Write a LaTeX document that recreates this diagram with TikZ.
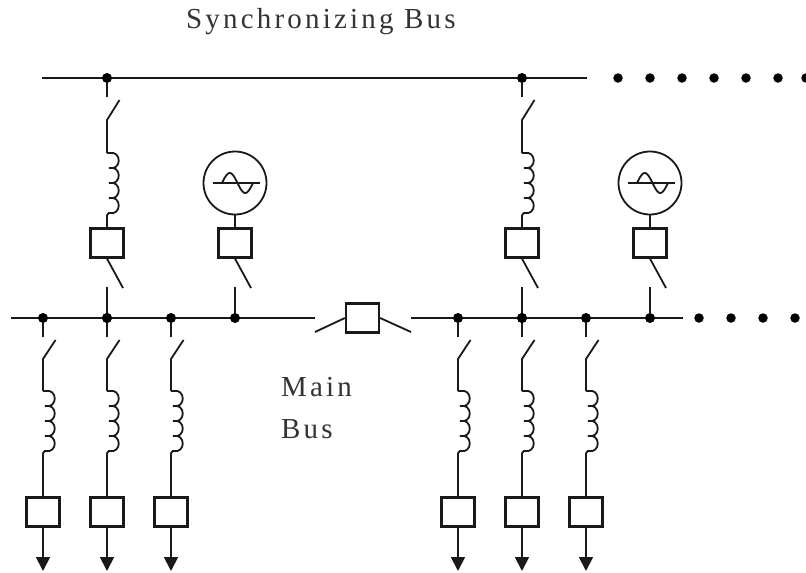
\documentclass[tikz,border=0pt]{standalone}
\usepackage{fontspec}
\usetikzlibrary{arrows.meta,positioning}
\newfontfamily\buslabelfont[LetterSpace=11]{Liberation Serif}
\definecolor{wire}{RGB}{25,25,25}
% coil with four bumps between two named coordinates on one vertical
\newcommand{\coilpath}[2]{%
  \draw[wire line] (#1,#2) -- ++(2,0)
    \foreach \k in {0,1,2,3} {.. controls +(13,-3) and +(13,3) .. ++(0,15)} -- ++(-2,2);}
% one outgoing feeder under a main bus
\newcommand{\feeder}[2]{%
  \node[jdot] (#1bus) at (#2,318) {};
  \coordinate (#1stub) at (#2,337);
  \coordinate (#1pivot) at (#2,359);
  \coordinate (#1tip) at (#2+12.5,340);
  \coordinate (#1coiltop) at (#2,391);
  \coordinate (#1coilend) at (#2,453);
  \node[brk] (#1brk) at (#2,512) {};
  \coordinate (#1load) at (#2,571);
  \draw[wire line] (#1bus) -- (#1stub);
  \draw[wire line] (#1tip) -- (#1pivot) -- (#1coiltop);
  \coilpath{#2}{391}
  \draw[wire line] (#1coilend) -- (#1brk);
  \draw[wire line, -{Triangle[length=14pt,width=14pt]}] (#1brk) -- (#1load);}
% one incoming set: synchronizing reactor and generator
\newcommand{\incomer}[3]{%
  \node[jdot] (#1sync) at (#2,78) {};
  \coordinate (#1stub) at (#2,97);
  \coordinate (#1pivot) at (#2,120);
  \coordinate (#1tip) at (#2+12.5,100);
  \coordinate (#1coiltop) at (#2,153);
  \coordinate (#1coilend) at (#2,215);
  \node[brk] (#1brk) at (#2,243) {};
  \coordinate (#1blade) at (#2+16,288);
  \coordinate (#1up) at (#2,287);
  \draw[wire line] (#1sync) -- (#1stub);
  \draw[wire line] (#1tip) -- (#1pivot) -- (#1coiltop);
  \coilpath{#2}{153}
  \draw[wire line] (#1coilend) -- (#1brk);
  \draw[wire line] (#1brk.south) -- (#1blade);
  \draw[wire line] (#1up) -- (#1bus);
  % generator
  \node[gen] (#1gen) at (#3,183) {};
  \node[brk] (#1genbrk) at (#3,243) {};
  \node[jdot] (#1genbus) at (#3,318) {};
  \coordinate (#1genblade) at (#3+16,288);
  \coordinate (#1genup) at (#3,287);
  \coordinate (#1axisl) at (#3-22,183);
  \coordinate (#1axisr) at (#3+25,183);
  \draw[wire line] (#1gen) -- (#1genbrk);
  \draw[wire line] (#1genbrk.south) -- (#1genblade);
  \draw[wire line] (#1genup) -- (#1genbus);
  \draw[wire line] (#1axisl) -- (#1axisr);
  \draw[wire line, domain=0:360, samples=40, smooth] plot ({#3-13+\x*31/360},{183-10*sin(\x)});}
\begin{document}
\begin{tikzpicture}[x=1pt,y=-1pt,
  wire line/.style={draw=wire, line width=1.8pt},
  jdot/.style={circle, fill=black, inner sep=0pt, minimum size=10pt},
  tdot/.style={circle, fill=black, inner sep=0pt, minimum size=9.5pt},
  brk/.style={draw=wire, line width=2.3pt, fill=white, inner sep=0pt, minimum width=33pt, minimum height=29pt},
  gen/.style={circle, draw=wire, line width=1.8pt, inner sep=0pt, minimum size=63pt},
  buslabel/.style={font=\buslabelfont\fontsize{29}{29}\selectfont, text=black!80, anchor=west, inner sep=0pt}]
\useasboundingbox (0,0) rectangle (806,573);
% Labels
\node[buslabel] (synclabel) at (186,22) {Synchronizing Bus};
\node[buslabel] (mainlabel) at (281,387) {Main};
\node[buslabel] (buslabel) at (281,429) {Bus};
% Bus ends
\coordinate (syncl) at (42,78);
\coordinate (syncr) at (587,78);
\coordinate (leftl) at (11,318);
\coordinate (leftr) at (315,318);
\coordinate (rightl) at (411,318);
\coordinate (rightr) at (683,318);
\draw[wire line, line width=2pt] (syncl) -- (syncr);
\draw[wire line, line width=2.8pt] (leftl) -- (leftr);
\draw[wire line] (rightl) -- (rightr);
% Feeders
\feeder{fa}{43}
\feeder{fb}{107}
\feeder{fc}{171}
\feeder{fd}{458}
\feeder{fe}{522}
\feeder{ff}{586}
% Incoming sets
\node[jdot] (inabus) at (107,318) {};
\node[jdot] (inbbus) at (522,318) {};
\incomer{ina}{107}{235}
\incomer{inb}{522}{650}
% Bus tie
\node[brk] (tie) at (362.5,318) {};
\coordinate (tiel) at (315,332);
\coordinate (tier) at (411,332);
\draw[wire line] (tie.west) -- (tiel);
\draw[wire line] (tie.east) -- (tier);
% Continuation dots
\foreach \x in {618,650,682,714,746,778,806} \node[tdot] (top\x) at (\x,78) {};
\foreach \x in {699,731,763,795} \node[tdot] (low\x) at (\x,318) {};
\end{tikzpicture}
\end{document}
